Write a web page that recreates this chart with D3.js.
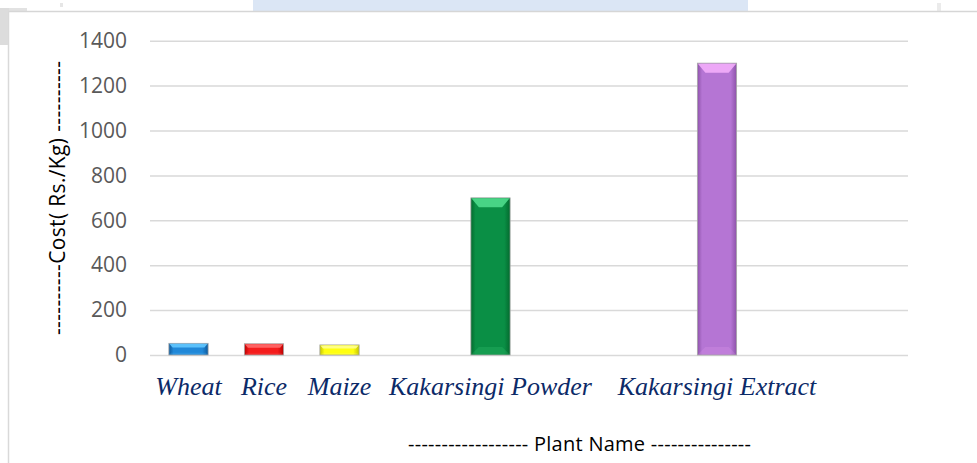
<!DOCTYPE html>
<html>
<head>
<meta charset="utf-8">
<script src="https://cdn.jsdelivr.net/npm/d3@7"></script>
<style>
  body { margin: 0; background: #fff; }
  svg { display: block; }
</style>
</head>
<body>
<div id="chart"></div>
<script>
// chart values (blank slots are empty categories in the original chart)
const plants = ["Wheat", "Rice", "Maize", "", "Kakarsingi Powder", "", "", "Kakarsingi Extract", "", ""];
const costs = [52, 50, 45, null, 700, null, null, 1300, null, null];
const yTicks = [0, 200, 400, 600, 800, 1000, 1200, 1400];
const yTitle = "----------Cost( Rs./Kg) ----------";
const xTitle = "------------------ Plant Name ---------------";

// bar colours: edge, base, top bevel
const palette = {
  "Wheat": ["#0d5a9c", "#2188d8", "#62c8ff"],
  "Rice": ["#b80000", "#f41c1c", "#ff6a6a"],
  "Maize": ["#c4c400", "#ffff10", "#ffff90"],
  "Kakarsingi Powder": ["#046a2e", "#0a8f45", "#4fdc8c"],
  "Kakarsingi Extract": ["#8d52a9", "#b575d4", "#f3aefb"]
};

const W = 977, H = 463;
const gridLeft = 150, gridRight = 908;

const svg = d3.select("#chart")
  .append("svg")
    .attr("width", W)
    .attr("height", H);

// page bits around the chart (document screenshot)
svg.append("rect").attr("x", 253).attr("y", 0).attr("width", 495).attr("height", 11).attr("fill", "#dbe6f5");
svg.append("rect").attr("x", 0).attr("y", 8).attr("width", 9).attr("height", 37).attr("fill", "#dcdcdc");
svg.append("rect").attr("x", 9).attr("y", 8).attr("width", 18).attr("height", 3).attr("fill", "#e2e2e2");
svg.append("rect").attr("x", 60).attr("y", 3).attr("width", 3).attr("height", 4).attr("fill", "#e6e6e6");
svg.append("rect").attr("x", 937).attr("y", 3).attr("width", 4).attr("height", 8).attr("fill", "#ebebeb");
svg.append("line").attr("x1", 8).attr("x2", W).attr("y1", 11.5).attr("y2", 11.5)
  .attr("stroke", "#d6d6d6").attr("stroke-width", 1.5);
svg.append("line").attr("x1", 8.5).attr("x2", 8.5).attr("y1", 11).attr("y2", H)
  .attr("stroke", "#d9d9d9").attr("stroke-width", 1.5);

// scales
const x = d3.scaleBand()
  .domain(d3.range(plants.length))
  .range([150.75, 905.75])
  .paddingInner(0.48)
  .paddingOuter(0.24);

const y = d3.scaleLinear()
  .domain([0, 1400])
  .range([355, 40.7]);

// gridlines + y tick labels
const yAxis = svg.append("g")
  .attr("transform", `translate(${gridLeft},0)`)
  .call(d3.axisLeft(y).tickValues(yTicks).tickFormat(d3.format("d"))
    .tickSize(-(gridRight - gridLeft)).tickPadding(23));
yAxis.select(".domain").remove();
yAxis.selectAll(".tick line").attr("stroke", "#d9d9d9").attr("stroke-width", 1.5);
yAxis.selectAll(".tick text")
  .attr("fill", "#595959")
  .style("font-family", "'Open Sans', sans-serif")
  .style("font-size", "21px");

// gradients
const defs = svg.append("defs");
Object.keys(palette).forEach((name, i) => {
  const c = palette[name];
  const g = defs.append("linearGradient").attr("id", "grad" + i)
    .attr("x1", "0%").attr("x2", "100%").attr("y1", "0%").attr("y2", "0%");
  g.append("stop").attr("offset", "0%").attr("stop-color", c[0]);
  g.append("stop").attr("offset", "12%").attr("stop-color", c[1]);
  g.append("stop").attr("offset", "85%").attr("stop-color", c[1]);
  g.append("stop").attr("offset", "100%").attr("stop-color", c[0]);
});
const gradId = name => "url(#grad" + Object.keys(palette).indexOf(name) + ")";

const barData = costs.map((v, i) => ({i: i, name: plants[i], value: v})).filter(d => d.value != null);
const bw = x.bandwidth();

const bars = svg.append("g").selectAll("g")
  .data(barData)
  .join("g");

bars.append("rect")
  .attr("x", d => x(d.i))
  .attr("y", d => y(d.value))
  .attr("width", bw)
  .attr("height", d => y(0) - y(d.value))
  .attr("fill", d => gradId(d.name))
  .attr("stroke", "#a8a8a8")
  .attr("stroke-width", 0.8);

// top bevel
bars.append("polygon")
  .attr("points", d => {
    const x0 = x(d.i), x1 = x0 + bw, yt = y(d.value);
    const bh = Math.min(9.5, (y(0) - yt) * 0.35), bi = Math.min(8, bh * 0.9);
    return [[x0 + 0.5, yt + 0.5], [x1 - 0.5, yt + 0.5], [x1 - bi, yt + bh], [x0 + bi, yt + bh]].join(" ");
  })
  .attr("fill", d => palette[d.name][2])
  .attr("opacity", 0.9);

// soft bottom bevel
bars.append("polygon")
  .attr("points", d => {
    const x0 = x(d.i), x1 = x0 + bw, yb = y(0);
    const bh = Math.min(8, (yb - y(d.value)) * 0.2), bi = Math.min(8, bh);
    return [[x0 + bi, yb - bh], [x1 - bi, yb - bh], [x1 - 0.5, yb - 0.5], [x0 + 0.5, yb - 0.5]].join(" ");
  })
  .attr("fill", d => palette[d.name][2])
  .attr("opacity", 0.18);

// category labels
svg.append("g").selectAll("text")
  .data(plants.map((p, i) => ({i: i, name: p})).filter(d => d.name !== ""))
  .join("text")
    .attr("x", d => x(d.i) + bw / 2)
    .attr("y", 395)
    .attr("text-anchor", "middle")
    .attr("fill", "#0c2a68")
    .style("font-family", "'Liberation Serif', 'Times New Roman', serif")
    .style("font-style", "italic")
    .style("font-size", "26px")
    .text(d => d.name);

// axis titles
svg.append("text")
  .attr("transform", "translate(65,198) rotate(-90)")
  .attr("text-anchor", "middle")
  .attr("fill", "#000")
  .attr("textLength", 274)
  .attr("lengthAdjust", "spacing")
  .style("font-family", "'Open Sans', sans-serif")
  .style("font-size", "21px")
  .text(yTitle);

svg.append("text")
  .attr("x", 579.5)
  .attr("y", 451)
  .attr("text-anchor", "middle")
  .attr("fill", "#000")
  .attr("textLength", 343)
  .attr("lengthAdjust", "spacing")
  .style("font-family", "'Open Sans', sans-serif")
  .style("font-size", "20px")
  .text(xTitle);
</script>
</body>
</html>
